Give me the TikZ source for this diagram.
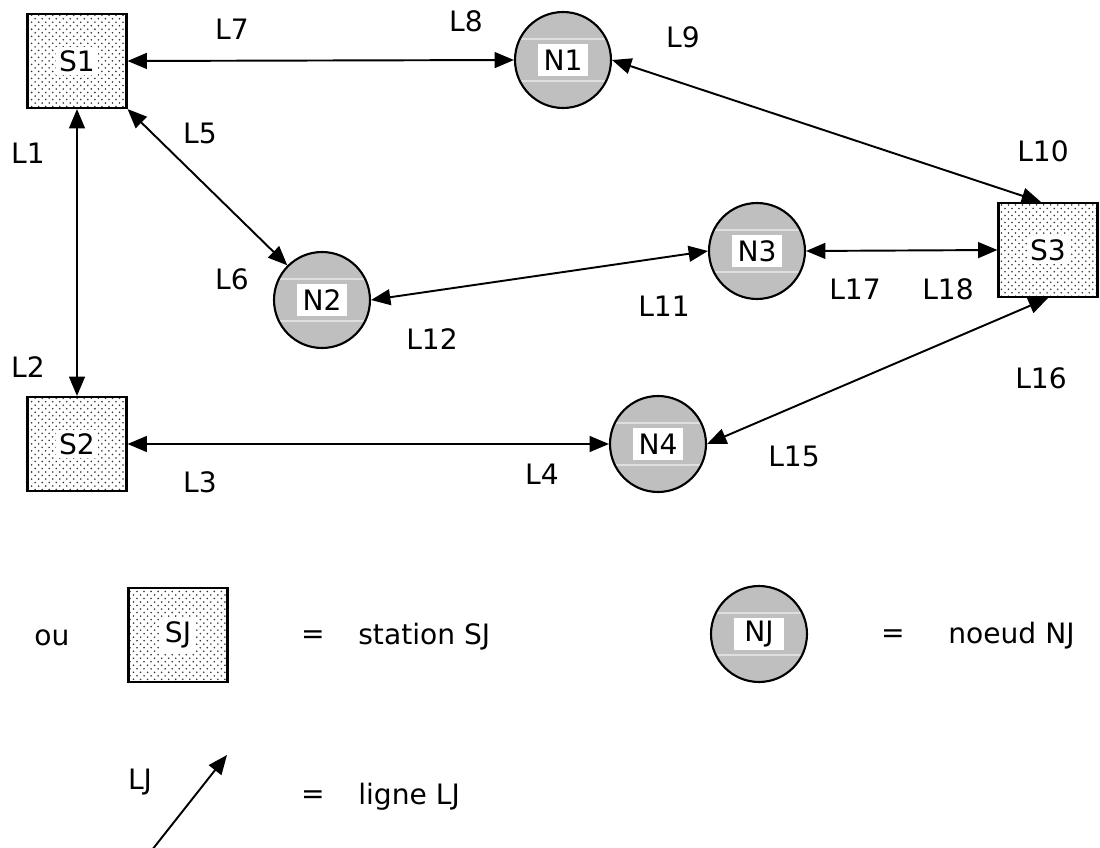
\documentclass[tikz,border=0pt]{standalone}
\usepackage{fontspec}
\setmainfont{DejaVu Sans}
\usetikzlibrary{arrows.meta,patterns}
\pgfdeclarepatternformonly{sdots}{\pgfqpoint{-1pt}{-1pt}}{\pgfqpoint{5pt}{5pt}}{\pgfqpoint{4pt}{4pt}}{%
  \pgfpathcircle{\pgfqpoint{0pt}{0pt}}{0.5pt}%
  \pgfpathcircle{\pgfqpoint{2pt}{2pt}}{0.5pt}%
  \pgfusepath{fill}}
\begin{document}
\begin{tikzpicture}[x=0.02cm,y=-0.02cm,
  every node/.style={font=\fontsize{16}{19}\selectfont},
  station/.style={draw=black, line width=1.2pt, minimum width=1.98cm, minimum height=1.88cm, pattern=sdots, pattern color=black!80, inner sep=0pt},
  noeud/.style={draw=black, line width=1.2pt, circle, minimum size=1.92cm, fill=gray!50, inner sep=0pt,
    path picture={
      \draw[gray!25, line width=0.8pt] ([yshift=0.42cm]path picture bounding box.west) -- ([yshift=0.42cm]path picture bounding box.east);
      \draw[gray!25, line width=0.8pt] ([yshift=-0.42cm]path picture bounding box.west) -- ([yshift=-0.42cm]path picture bounding box.east);}},
  nlab/.style={fill=white, minimum width=1.0cm, minimum height=0.66cm, inner sep=1pt},
  slab/.style={fill=white, inner sep=2pt},
  lien/.style={line width=1.1pt, {Triangle[length=11pt,width=9pt]}-{Triangle[length=11pt,width=9pt]}},
  lab/.style={inner sep=0pt}]
\useasboundingbox (0,0) rectangle (1100,848);

% stations
\node[station] (S1) at (77,61) {};
\node[slab] (S1t) at (S1) {S1};
\node[station] (S2) at (77,444) {};
\node[slab] (S2t) at (S2) {S2};
\node[station] (S3) at (1048,250) {};
\node[slab] (S3t) at (S3) {S3};

% noeuds
\node[noeud] (N1) at (563,60) {};
\node[nlab] (N1t) at (N1) {N1};
\node[noeud] (N2) at (322,300) {};
\node[nlab] (N2t) at (N2) {N2};
\node[noeud] (N3) at (757,251) {};
\node[nlab] (N3t) at (N3) {N3};
\node[noeud] (N4) at (658,444) {};
\node[nlab] (N4t) at (N4) {N4};

% lignes
\draw[lien] (S1.east) -- (N1.west);
\draw[lien] (N1.east) -- ([xshift=-4pt]S3.north);
\draw[lien] (S1.south east) -- (N2.north west);
\draw[lien] (S1.south) -- (S2.north);
\draw[lien] (N2.east) -- (N3.west);
\draw[lien] (N3.east) -- (S3.west);
\draw[lien] (N4.east) -- (S3.south);
\draw[lien] (S2.east) -- (N4.west);

% labels
\node[lab] (l7) at (232,29) {L7};
\node[lab] (l8) at (466,21) {L8};
\node[lab] (l9) at (683,37) {L9};
\node[lab] (l1) at (28,153) {L1};
\node[lab] (l5) at (200,133) {L5};
\node[lab] (l10) at (1043,151) {L10};
\node[lab] (l6) at (232,279) {L6};
\node[lab] (l17) at (855,289) {L17};
\node[lab] (l18) at (948,289) {L18};
\node[lab] (l11) at (664,306) {L11};
\node[lab] (l12) at (432,339) {L12};
\node[lab] (l2) at (28,367) {L2};
\node[lab] (l16) at (1041,378) {L16};
\node[lab] (l15) at (794,456) {L15};
\node[lab] (l3) at (200,482) {L3};
\node[lab] (l4) at (542,474) {L4};

% legende
\node[lab] (ou) at (52,638) {ou};
\node[station] (SJ) at (178,635) {};
\node[slab] (SJt) at (SJ) {SJ};
\node[lab] (eq1) at (313,637) {=};
\node[lab, anchor=west] (st) at (358,637) {station SJ};
\node[noeud] (NJ) at (759,634) {};
\node[nlab] (NJt) at (NJ) {NJ};
\node[lab] (eq2) at (893,636) {=};
\node[lab, anchor=west] (nd) at (948,636) {noeud NJ};
\coordinate (LJs) at (152,850);
\coordinate (LJe) at (227,755);
\draw[line width=1.1pt, -{Triangle[length=11pt,width=9pt]}] (LJs) -- (LJe);
\node[lab] (lj) at (140,782) {LJ};
\node[lab] (eq3) at (313,797) {=};
\node[lab, anchor=west] (lg) at (358,797) {ligne LJ};
\end{tikzpicture}
\end{document}
